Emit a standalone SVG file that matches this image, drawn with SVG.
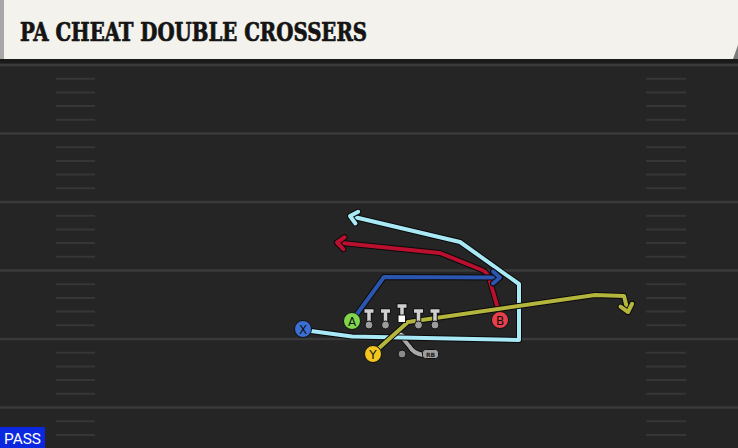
<svg xmlns="http://www.w3.org/2000/svg" width="738" height="448" viewBox="0 0 738 448">
<style>
.yard{stroke:#3a3a3a;stroke-width:2.5}
.hash{stroke:#363636;stroke-width:2}
.out{fill:none;stroke:#0a0a0a;stroke-width:6;stroke-linejoin:round;stroke-linecap:round}
.rt{fill:none;stroke-width:4;stroke-linejoin:round;stroke-linecap:round}
.lbl{font-family:"DejaVu Sans","Liberation Sans",sans-serif;font-size:12px;fill:#111;text-anchor:middle}
.pc{stroke:#111;stroke-width:1}
.tb{fill:none;stroke:#111;stroke-width:5.5;stroke-linecap:butt}
.tw{fill:none;stroke:#cfcfcf;stroke-width:3.5;stroke-linecap:butt}
</style>
<defs>
<marker id="mLB" viewBox="-12 -10 16 20" markerWidth="16" markerHeight="20" refX="0" refY="0" orient="auto" markerUnits="userSpaceOnUse">
<path d="M-7 -6 L0 0 L-7 6" fill="none" stroke="#0a0a0a" stroke-width="6" stroke-linecap="round" stroke-linejoin="round"/>
<path d="M-7 -6 L0 0 L-7 6" fill="none" stroke="#a8e9f5" stroke-width="4" stroke-linecap="round" stroke-linejoin="round"/>
</marker>
<marker id="mR" viewBox="-12 -10 16 20" markerWidth="16" markerHeight="20" refX="0" refY="0" orient="auto" markerUnits="userSpaceOnUse">
<path d="M-7 -6 L0 0 L-7 6" fill="none" stroke="#0a0a0a" stroke-width="6" stroke-linecap="round" stroke-linejoin="round"/>
<path d="M-7 -6 L0 0 L-7 6" fill="none" stroke="#b8102e" stroke-width="4" stroke-linecap="round" stroke-linejoin="round"/>
</marker>
<marker id="mB" viewBox="-12 -10 16 20" markerWidth="16" markerHeight="20" refX="0" refY="0" orient="auto" markerUnits="userSpaceOnUse">
<path d="M-7 -6 L0 0 L-7 6" fill="none" stroke="#0a0a0a" stroke-width="6" stroke-linecap="round" stroke-linejoin="round"/>
<path d="M-7 -6 L0 0 L-7 6" fill="none" stroke="#2b55ae" stroke-width="4" stroke-linecap="round" stroke-linejoin="round"/>
</marker>
<marker id="mY" viewBox="-12 -10 16 20" markerWidth="16" markerHeight="20" refX="0" refY="0" orient="auto" markerUnits="userSpaceOnUse">
<path d="M-7 -6 L0 0 L-7 6" fill="none" stroke="#0a0a0a" stroke-width="6" stroke-linecap="round" stroke-linejoin="round"/>
<path d="M-7 -6 L0 0 L-7 6" fill="none" stroke="#b4b53c" stroke-width="4" stroke-linecap="round" stroke-linejoin="round"/>
</marker>
</defs>

<!-- field -->
<rect x="0" y="0" width="738" height="448" fill="#252525"/>
<rect x="0" y="59" width="738" height="4" fill="#1a1a1a"/>
<g id="yardlines">
<line class="yard" x1="0" y1="65" x2="738" y2="65"/>
<line class="yard" x1="0" y1="133.5" x2="738" y2="133.5"/>
<line class="yard" x1="0" y1="202" x2="738" y2="202"/>
<line class="yard" x1="0" y1="270.5" x2="738" y2="270.5"/>
<line class="yard" x1="0" y1="339" x2="738" y2="339"/>
<line class="yard" x1="0" y1="407.5" x2="738" y2="407.5"/>
</g>
<g id="hashes">
<path class="hash" d="M56 78.7H95M56 92.4H95M56 106.1H95M56 119.8H95M56 147.2H95M56 160.9H95M56 174.6H95M56 188.3H95M56 215.7H95M56 229.4H95M56 243.1H95M56 256.8H95M56 284.2H95M56 297.9H95M56 311.6H95M56 325.3H95M56 352.7H95M56 366.4H95M56 380.1H95M56 393.8H95M56 421.2H95M56 434.9H95"/>
<path class="hash" d="M646 78.7H686M646 92.4H686M646 106.1H686M646 119.8H686M646 147.2H686M646 160.9H686M646 174.6H686M646 188.3H686M646 215.7H686M646 229.4H686M646 243.1H686M646 256.8H686M646 284.2H686M646 297.9H686M646 311.6H686M646 325.3H686M646 352.7H686M646 366.4H686M646 380.1H686M646 393.8H686M646 421.2H686M646 434.9H686"/>
</g>

<!-- title bar -->
<g id="title">
<rect x="0" y="0" width="738" height="59" fill="#f4f2ec"/>
<rect x="0" y="0" width="4" height="59" fill="#a8a8a8"/>
<polygon points="733,59 738,45 738,59" fill="#7a7a7a"/>
<text x="20" y="41" font-family="'DejaVu Serif Condensed','DejaVu Serif',serif" font-stretch="condensed" font-weight="bold" font-size="26" fill="#141414" stroke="#141414" stroke-width="0.7" textLength="347" lengthAdjust="spacingAndGlyphs">PA CHEAT DOUBLE CROSSERS</text>
</g>

<!-- connectors / routes -->
<g id="connectors">
<path class="out" d="M423 355 Q413 353 410 347 L400 335"/>
<path class="rt" stroke="#a9a9a9" stroke-width="3.5" d="M423 355 Q413 353 410 347 L400 335"/>
<path d="M396 338 L399 333 L404 336" fill="none" stroke="#d6d6d6" stroke-width="3" stroke-linejoin="round"/>

<path class="out" d="M311 331 L352 336.5 L519 340 L519 284 L460 242 L350 216"/>
<path class="rt" stroke="#a8e9f5" d="M311 331 L352 336.5 L519 340 L519 284 L460 242 L350 216" marker-end="url(#mLB)"/>

<path class="out" d="M499 312 L489 278 Q487 272 482 270 L440 253 L337 242.5"/>
<path class="rt" stroke="#b8102e" d="M499 312 L489 278 Q487 272 482 270 L440 253 L337 242.5" marker-end="url(#mR)"/>

<path class="out" d="M357 314 L384 277 L500 277.5"/>
<path class="rt" stroke="#2b55ae" d="M357 314 L384 277 L500 277.5" marker-end="url(#mB)"/>

<path class="out" d="M378 349 L408 322 L595 295 L624 296 L628 312"/>
<path class="rt" stroke="#b4b53c" d="M378 349 L408 322 L595 295 L624 296 L628 312" marker-end="url(#mY)"/>
</g>

<!-- offensive line -->
<g id="LT">
<path class="tb" d="M369 322 V311 M363.5 311 H374.5"/><path class="tw" d="M369 322 V311 M364.5 311 H373.5"/>
<circle cx="369" cy="325" r="4" fill="#9c9c9c" class="pc"/>
</g>
<g id="LG">
<path class="tb" d="M385.5 322 V311 M380 311 H391"/><path class="tw" d="M385.5 322 V311 M381 311 H390"/>
<circle cx="385.5" cy="325" r="4" fill="#9c9c9c" class="pc"/>
</g>
<g id="C">
<path class="tb" d="M402 315 V306 M396.5 306 H407.5"/><path class="tw" d="M402 315 V306 M397.5 306 H406.5"/>
<rect x="398" y="315" width="7.5" height="7.5" fill="#ffffff" class="pc"/>
</g>
<g id="RG">
<path class="tb" d="M418.5 322 V311 M413 311 H424"/><path class="tw" d="M418.5 322 V311 M414 311 H423"/>
<circle cx="418.5" cy="325" r="4" fill="#9c9c9c" class="pc"/>
</g>
<g id="RT">
<path class="tb" d="M435 322 V311 M429.5 311 H440.5"/><path class="tw" d="M435 322 V311 M430.5 311 H439.5"/>
<circle cx="435" cy="325" r="4" fill="#9c9c9c" class="pc"/>
</g>
<g id="QB">
<circle cx="402" cy="354" r="4" fill="#8a8a8a" class="pc"/>
</g>
<g id="RB">
<rect x="422.5" y="349.5" width="16" height="9" rx="3" fill="#9d9d9d" class="pc"/>
<text x="430.5" y="356.6" font-family="'DejaVu Sans',sans-serif" font-size="6" font-weight="bold" fill="#222" text-anchor="middle">RB</text>
</g>

<!-- skill players -->
<g id="X">
<circle cx="303" cy="329" r="8.5" fill="#3c6fd3" class="pc"/>
<text class="lbl" x="303" y="333.5">X</text>
</g>
<g id="A">
<circle cx="352" cy="321" r="8.5" fill="#7fd64c" class="pc"/>
<text class="lbl" x="352" y="325.5">A</text>
</g>
<g id="Y">
<circle cx="373" cy="354" r="8.5" fill="#f2c521" class="pc"/>
<text class="lbl" x="373" y="358.5">Y</text>
</g>
<g id="B">
<circle cx="500" cy="320" r="8.5" fill="#e5404b" class="pc"/>
<text class="lbl" x="500" y="324.5">B</text>
</g>

<!-- pass tag -->
<g id="pass">
<rect x="0" y="427" width="45" height="21" fill="#0b27e0"/>
<text x="4" y="444" font-family="Roboto,'Liberation Sans',sans-serif" font-size="15" fill="#ffffff" textLength="37" lengthAdjust="spacingAndGlyphs">PASS</text>
</g>
</svg>
